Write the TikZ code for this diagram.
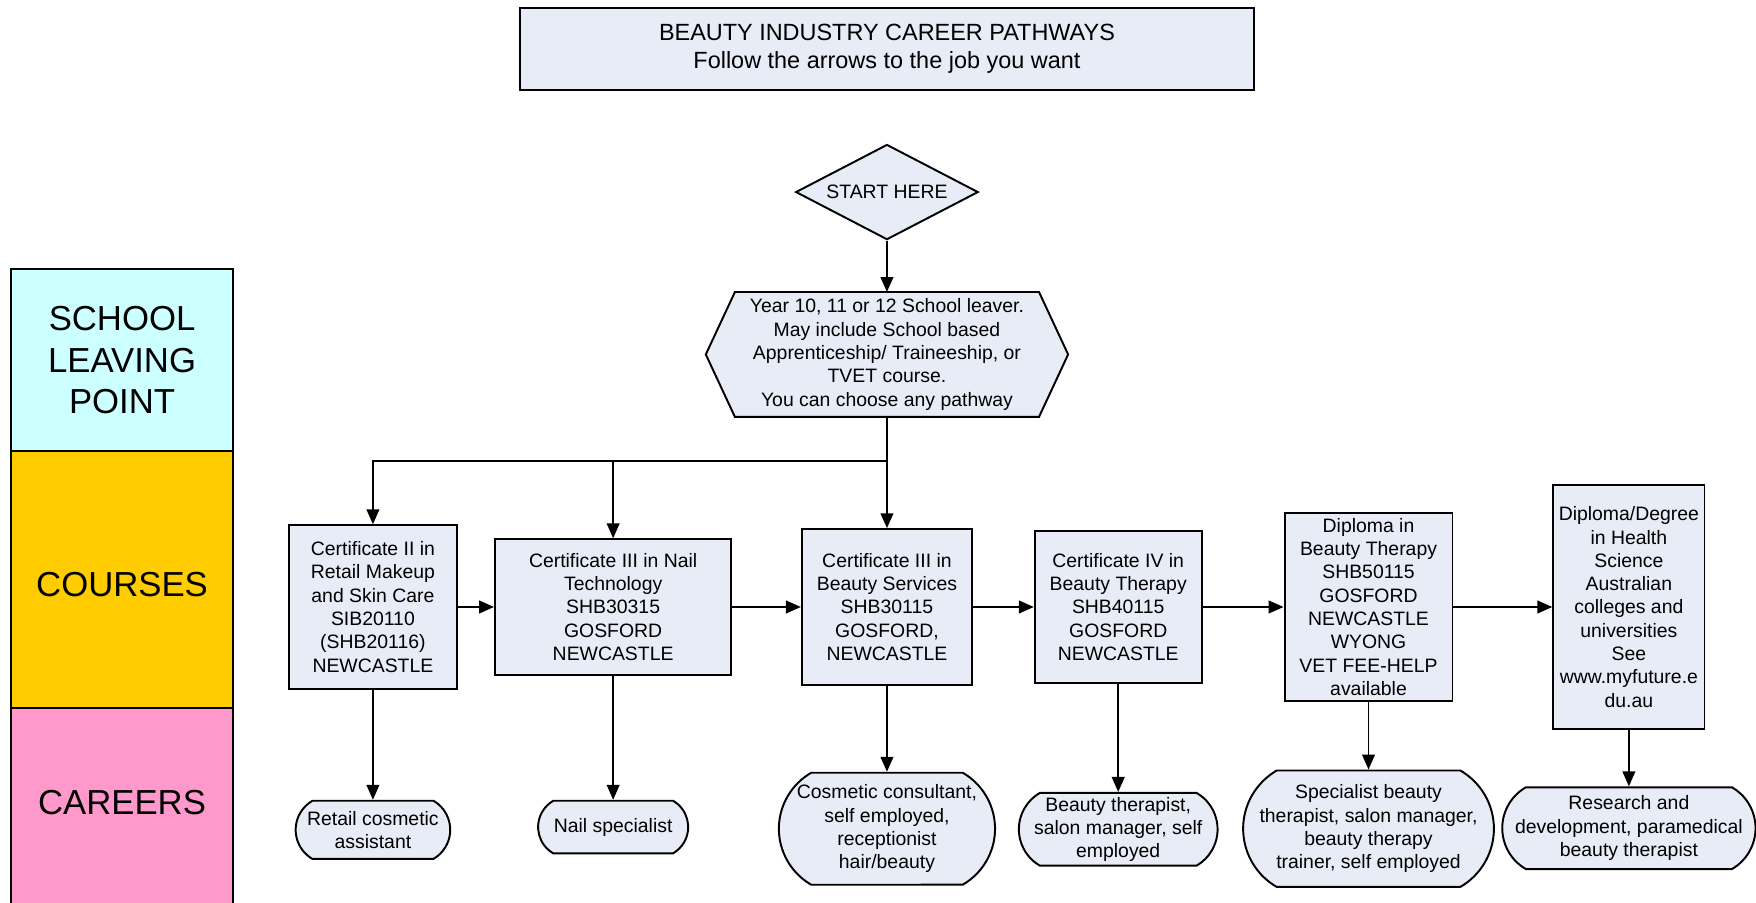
\documentclass[tikz,border=0pt]{standalone}
\usepackage{fontspec}
\setmainfont{Liberation Sans}
\usetikzlibrary{shapes,arrows.meta,positioning,calc,backgrounds}
\definecolor{boxblue}{HTML}{E7ECF7}
\definecolor{leavecyan}{HTML}{CCFFFF}
\definecolor{coursegold}{HTML}{FFCC00}
\definecolor{careerpink}{HTML}{FF99CC}

\begin{document}
\begin{tikzpicture}[x=0.75pt, y=-0.75pt,
    every node/.style={font=\fontsize{13pt}{15.6pt}\selectfont, align=center, inner sep=1pt},
    course/.style={draw, line width=1.3pt, fill=boxblue, rectangle},
    career/.style={draw, line width=1.3pt, fill=boxblue, rounded rectangle, rounded rectangle arc length=120, inner sep=0pt},
    band/.style={draw, line width=1.3pt, minimum width=148.5pt},
    bandtext/.style={font=\fontsize{23.25pt}{27.75pt}\selectfont},
    arr/.style={line width=1.3pt, -{Triangle[length=10pt,width=8.5pt]}}
]
\useasboundingbox (0,0) rectangle (1568,806);

% side bands
\node[band, fill=leavecyan, minimum height=122.25pt, bandtext] (leaving) at (109,321.5) {SCHOOL\\LEAVING\\POINT};
\node[band, fill=coursegold, minimum height=171.75pt,
      label={[bandtext, yshift=-3.4pt]center:COURSES}] (courses) at (109,517.5) {};
\node[band, fill=careerpink, minimum height=135pt,
      label={[bandtext, yshift=3.75pt]center:CAREERS}] (careers) at (109,722) {};

% heading
\node[course, minimum width=492pt, minimum height=54.75pt, font=\fontsize{15.7pt}{18.75pt}\selectfont] (title) at (792,43.5)
    {BEAUTY INDUSTRY CAREER PATHWAYS\\Follow the arrows to the job you want};

\node[draw, diamond, aspect=1.9, fill=boxblue, line width=1.3pt, minimum width=122.25pt, minimum height=63.75pt, inner sep=0pt] (start) at (792,171.5) {START HERE};

% school leaver hexagon
\node[minimum width=203.25pt, minimum height=83.25pt, inner sep=0pt] (leaver) at (792,316.5)
    {Year 10, 11 or 12 School leaver.\\May include School based\\Apprenticeship/ Traineeship, or\\TVET course.\\You can choose any pathway};
\begin{scope}[on background layer]
\draw[line width=1.3pt, fill=boxblue] (leaver.north west) -- (leaver.north east) -- ($(leaver.east)+(26,0)$)
    -- (leaver.south east) -- (leaver.south west) -- ($(leaver.west)+(-26,0)$) -- cycle;
\end{scope}

% courses
\node[course, minimum width=112.5pt, minimum height=109.5pt] (cert2) at (333,542)
    {Certificate II in\\Retail Makeup\\and Skin Care\\SIB20110\\(SHB20116)\\NEWCASTLE};
\node[course, minimum width=158.25pt, minimum height=90.75pt] (nail) at (547.5,542)
    {Certificate III in Nail\\Technology\\SHB30315\\GOSFORD\\NEWCASTLE};
\node[course, minimum width=114pt, minimum height=104.25pt] (services) at (792,542)
    {Certificate III in\\Beauty Services\\SHB30115\\GOSFORD,\\NEWCASTLE};
\node[course, minimum width=111.75pt, minimum height=101.25pt] (cert4) at (998.5,542)
    {Certificate IV in\\Beauty Therapy\\SHB40115\\GOSFORD\\NEWCASTLE};
\node[course, minimum width=112.5pt, minimum height=126pt] (diploma) at (1222,542)
    {Diploma in\\Beauty Therapy\\SHB50115\\GOSFORD\\NEWCASTLE\\WYONG\\VET FEE-HELP\\available};
\node[course, minimum width=101.25pt, minimum height=163.5pt] (degree) at (1454.5,542)
    {Diploma/Degree\\in Health\\Science\\Australian\\colleges and\\universities\\See\\www.myfuture.e\\du.au};

% careers
\node[career, minimum width=103.5pt, minimum height=39pt] (retail) at (333,741) {Retail cosmetic\\assistant};
\node[career, minimum width=100.5pt, minimum height=35.25pt] (nailjob) at (547.5,738.5) {Nail specialist};
\node[career, minimum width=144.75pt, minimum height=75pt] (consultant) at (792,740)
    {Cosmetic consultant,\\self employed,\\receptionist\\hair/beauty};
\node[career, minimum width=130.5pt, minimum height=48.75pt] (therapist) at (998.5,740.5)
    {Beauty therapist,\\salon manager, self\\employed};
\node[career, minimum width=166.5pt, minimum height=78pt] (specialist) at (1222,740)
    {Specialist beauty\\therapist, salon manager,\\beauty therapy\\trainer, self employed};
\node[career, minimum width=162.75pt, minimum height=54.75pt] (research) at (1454.5,739.5)
    {Research and\\development, paramedical\\beauty therapist};

% connectors
\coordinate (split) at (792,412);
\draw[arr] (start.south) -- (leaver.north);
\draw[arr] (leaver.south) -- (services.north);
\draw[arr] (split) -| (cert2.north);
\draw[arr] (split) -| (nail.north);

\draw[arr] (cert2.east) -- (nail.west);
\draw[arr] (nail.east) -- (services.west);
\draw[arr] (services.east) -- (cert4.west);
\draw[arr] (cert4.east) -- (diploma.west);
\draw[arr] (diploma.east) -- (degree.west);

\draw[arr] (cert2.south) -- (retail.north);
\draw[arr] (nail.south) -- (nailjob.north);
\draw[arr] (services.south) -- (consultant.north);
\draw[arr] (cert4.south) -- (therapist.north);
\draw[arr] (diploma.south) -- (specialist.north);
\draw[arr] (degree.south) -- (research.north);
\end{tikzpicture}
\end{document}
